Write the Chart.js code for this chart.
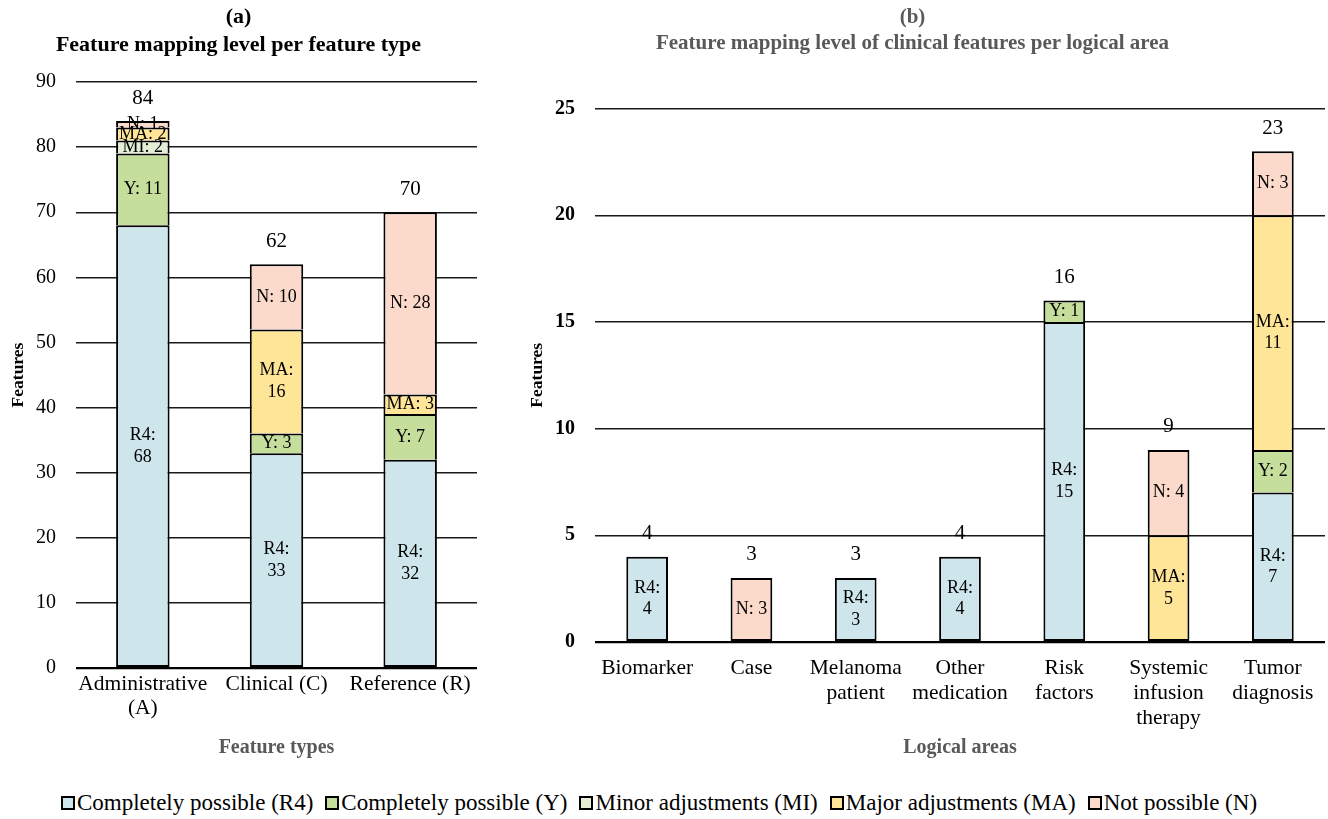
<!DOCTYPE html>
<html>
<head>
<meta charset="utf-8">
<script src="https://cdn.jsdelivr.net/npm/chart.js@4.4.1/dist/chart.umd.min.js"></script>
<style>
  html, body { margin: 0; padding: 0; background: #fff; }
  body { width: 1328px; height: 819px; position: relative; overflow: hidden; font-family: "Liberation Serif", "DejaVu Serif", serif; }
  #wrapA { position: absolute; left: 0; top: 0; width: 490px; height: 772px; }
  #wrapB { position: absolute; left: 500px; top: 0; width: 828px; height: 772px; }
  #legend { position: absolute; left: 0; top: 788px; width: 1318px; text-align: center; font-size: 23px; line-height: 30px; color: #000; white-space: nowrap; }
  .item { display: inline-block; margin: 0 6px; }
  .sw { display: inline-block; width: 14px; height: 14px; box-sizing: border-box; border: 2px solid #000; margin-right: 2px; vertical-align: 0px; }
</style>
</head>
<body>
<div id="wrapA"><canvas id="chartA"></canvas></div>
<div id="wrapB"><canvas id="chartB"></canvas></div>
<div id="legend"></div>
<script>
// ---------- Data ----------
const seriesNames = ["Completely possible (R4)", "Completely possible (Y)", "Minor adjustments (MI)", "Major adjustments (MA)", "Not possible (N)"];
const seriesAbbr = ["R4", "Y", "MI", "MA", "N"];
const seriesColors = ["#CDE5EB", "#C5DE9B", "#E3EED5", "#FFE598", "#FBDACB"];

// Panel (a): feature types
const typeCategories = [["Administrative", "(A)"], "Clinical (C)", "Reference (R)"];
const typeR4 = [68, 33, 32];
const typeY  = [11, 3, 7];
const typeMI = [2, null, null];
const typeMA = [2, 16, 3];
const typeN  = [1, 10, 28];
const typeTicks = [0, 10, 20, 30, 40, 50, 60, 70, 80, 90];

// Panel (b): logical areas of clinical features
const areaCategories = ["Biomarker", "Case", ["Melanoma", "patient"], ["Other", "medication"], ["Risk", "factors"], ["Systemic", "infusion", "therapy"], ["Tumor", "diagnosis"]];
const areaR4 = [4, null, 3, 4, 15, null, 7];
const areaY  = [null, null, null, null, 1, null, 2];
const areaMI = [null, null, null, null, null, null, null];
const areaMA = [null, null, null, null, null, 5, 11];
const areaN  = [null, 3, null, null, null, 4, 3];
const areaTicks = [0, 5, 10, 15, 20, 25];

const SERIF = "'Liberation Serif', 'DejaVu Serif', serif";

function isSet(v) { return v !== null && v !== undefined; }

function segBorder(ctx) {
  if (ctx.type !== "data") return 2;
  if (!isSet(ctx.raw)) return 0;
  const ds = ctx.chart.data.datasets;
  let isBottom = true;
  for (let k = ctx.datasetIndex - 1; k >= 0; k--) {
    if (isSet(ds[k].data[ctx.dataIndex])) { isBottom = false; break; }
  }
  return { left: 2, right: 2, top: 2, bottom: isBottom ? 2 : 0 };
}

function makeDatasets(arrays) {
  return arrays.map((arr, i) => ({
    label: seriesNames[i],
    abbr: seriesAbbr[i],
    data: arr,
    backgroundColor: seriesColors[i],
    borderColor: "#000",
    borderWidth: segBorder,
    borderSkipped: false,
    barPercentage: 0.8,
    categoryPercentage: 0.5
  }));
}

// Plugin: segment labels + totals
const labelPlugin = {
  id: "segLabels",
  afterDatasetsDraw(chart, args, opts) {
    const ctx = chart.ctx;
    ctx.save();
    ctx.fillStyle = "#000";
    ctx.textAlign = "center";
    ctx.textBaseline = "middle";
    const segFont = opts.segSize + "px " + SERIF;
    const n = chart.data.labels.length;
    const totals = new Array(n).fill(0);
    const tops = new Array(n).fill(null);
    chart.data.datasets.forEach((ds, di) => {
      const meta = chart.getDatasetMeta(di);
      meta.data.forEach((el, idx) => {
        const v = ds.data[idx];
        if (!isSet(v)) return;
        totals[idx] += v;
        if (tops[idx] === null || el.y < tops[idx]) tops[idx] = el.y;
        const h = Math.abs(el.base - el.y);
        const cy = (el.y + el.base) / 2;
        ctx.font = segFont;
        const twoLines = (ds.abbr === "R4" || ds.abbr === "MA") && h > 45;
        if (twoLines) {
          const lh = opts.segSize * 1.2;
          ctx.fillText(ds.abbr + ":", el.x, cy - lh / 2);
          ctx.fillText(String(v), el.x, cy + lh / 2);
        } else {
          ctx.fillText(ds.abbr + ": " + v, el.x, cy);
        }
      });
    });
    ctx.font = opts.totSize + "px " + SERIF;
    const xs = chart.getDatasetMeta(0).data.map(e => e.x);
    totals.forEach((t, idx) => {
      if (tops[idx] === null) return;
      ctx.fillText(String(t), xs[idx], tops[idx] - 23);
    });
    ctx.restore();
  }
};

function gridColor(ctx) { return ctx.tick && ctx.tick.value === 0 ? "#000" : "#1a1a1a"; }
function gridWidth(ctx) { return ctx.tick && ctx.tick.value === 0 ? 2.2 : 1.4; }

function buildChart(canvasId, cfg) {
  const ticksArr = cfg.ticks;
  return new Chart(document.getElementById(canvasId), {
    type: "bar",
    data: { labels: cfg.categories, datasets: makeDatasets(cfg.series) },
    plugins: [labelPlugin],
    options: {
      responsive: true,
      maintainAspectRatio: false,
      animation: false,
      layout: { padding: { left: 0, right: cfg.padRight, top: 4, bottom: 0 } },
      plugins: {
        legend: { display: false },
        tooltip: { enabled: false },
        title: {
          display: true,
          text: cfg.title,
          color: cfg.titleColor,
          font: { family: SERIF, size: cfg.titleSize, weight: "bold", lineHeight: 1.25 },
          padding: { top: 0, bottom: cfg.titleGap }
        },
        segLabels: { segSize: cfg.segSize, totSize: 21 }
      },
      scales: {
        x: {
          stacked: true,
          grid: { display: false, drawTicks: false },
          border: { display: false },
          ticks: { color: "#000", font: { family: SERIF, size: cfg.xTickSize, lineHeight: cfg.xTickLH }, padding: cfg.xTickPad, maxRotation: 0, autoSkip: false },
          title: { display: true, text: cfg.xTitle, color: "#595959", font: { family: SERIF, size: 20, weight: "bold" }, padding: { top: 0, bottom: cfg.xTitlePadB } },
          afterFit(scale) { scale.height = cfg.xHeight; }
        },
        y: {
          stacked: true,
          min: 0,
          max: ticksArr[ticksArr.length - 1],
          afterBuildTicks(scale) { scale.ticks = ticksArr.map(v => ({ value: v })); },
          grid: { color: gridColor, lineWidth: gridWidth, drawTicks: false },
          border: { display: false },
          ticks: { color: "#000", font: { family: SERIF, size: cfg.yTickSize, weight: cfg.yTickWeight }, padding: 20 },
          title: { display: true, text: "Features", color: "#000", font: { family: SERIF, size: 17.5, weight: "bold" }, padding: { top: cfg.yTitlePadT, bottom: 0 } },
          afterFit(scale) { scale.width = cfg.yWidth; }
        }
      }
    }
  });
}

buildChart("chartA", {
  categories: typeCategories,
  series: [typeR4, typeY, typeMI, typeMA, typeN],
  ticks: typeTicks,
  title: ["(a)", "Feature mapping level per feature type"],
  titleColor: "#000",
  titleSize: 22,
  titleGap: 23,
  padRight: 13,
  segSize: 18,
  xTickSize: 21.5, xTickLH: 1.12, xTickPad: 4,
  xTitle: "Feature types", xTitlePadB: 12, xHeight: 104,
  yTickSize: 20, yTickWeight: "normal",
  yTitlePadT: 7.5, yWidth: 76
});

buildChart("chartB", {
  categories: areaCategories,
  series: [areaR4, areaY, areaMI, areaMA, areaN],
  ticks: areaTicks,
  title: ["(b)", "Feature mapping level of clinical features per logical area"],
  titleColor: "#595959",
  titleSize: 21,
  titleGap: 52,
  padRight: 3,
  segSize: 18,
  xTickSize: 21.5, xTickLH: 1.16, xTickPad: 14,
  xTitle: "Logical areas", xTitlePadB: 12, xHeight: 130,
  yTickSize: 20, yTickWeight: "bold",
  yTitlePadT: 26.5, yWidth: 95
});

// HTML legend
const legendEl = document.getElementById("legend");
seriesNames.forEach((name, i) => {
  const item = document.createElement("span");
  item.className = "item";
  const sw = document.createElement("span");
  sw.className = "sw";
  sw.style.background = seriesColors[i];
  item.appendChild(sw);
  item.appendChild(document.createTextNode(name));
  legendEl.appendChild(item);
});
</script>
</body>
</html>
